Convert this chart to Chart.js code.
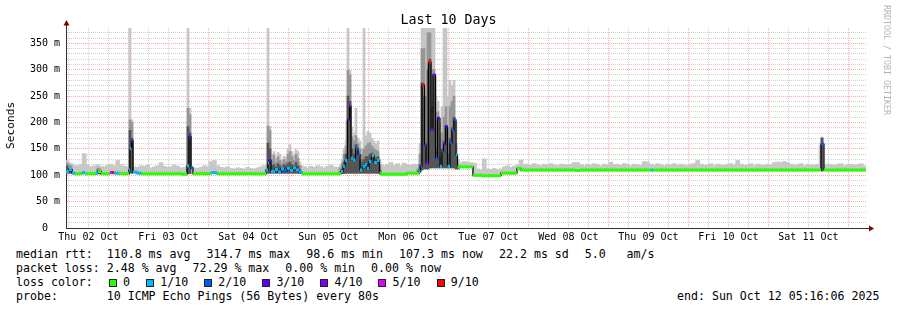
<!DOCTYPE html>
<html><head><meta charset="utf-8">
<script src="https://cdn.jsdelivr.net/npm/chart.js@4.4.1/dist/chart.umd.min.js"></script>
<style>
html,body{margin:0;padding:0;background:#fff;}
body{width:897px;height:310px;position:relative;overflow:hidden;font-family:"DejaVu Sans Mono",monospace;color:#000;}
#wrap{position:absolute;left:0;top:0;width:897px;height:245px;}
.t{position:absolute;white-space:pre;font-size:11.6px;line-height:14px;}
.box{position:absolute;width:6px;height:6px;border:1px solid #222;top:279px;}
#title{position:absolute;left:0;width:897px;top:11px;text-align:center;font-size:13.3px;line-height:17px;white-space:pre;}
#ytitle{position:absolute;left:5px;top:102px;writing-mode:vertical-rl;transform:rotate(180deg);font-size:11.2px;line-height:12px;white-space:pre;color:#000;}
#rrd{position:absolute;left:882px;top:5px;writing-mode:vertical-rl;font-size:8.3px;color:#b4b4b4;white-space:pre;line-height:9px;}
</style></head>
<body>
<div id="wrap"><canvas id="c" width="897" height="245"></canvas></div>
<div id="title">Last 10 Days</div>
<div id="ytitle">Seconds</div>
<div id="rrd">RRDTOOL / TOBI OETIKER</div>
<div class="t" style="left:16px;top:247px">median rtt:  110.8 ms avg</div>
<div class="t" style="left:206.5px;top:247px">314.7 ms max</div>
<div class="t" style="left:306.3px;top:247px">98.6 ms min</div>
<div class="t" style="left:399.1px;top:247px">107.3 ms now</div>
<div class="t" style="left:499px;top:247px">22.2 ms sd</div>
<div class="t" style="left:584.7px;top:247px">5.0   am/s</div>
<div class="t" style="left:16px;top:261px">packet loss: 2.48 % avg</div>
<div class="t" style="left:192.5px;top:261px">72.29 % max</div>
<div class="t" style="left:285.3px;top:261px">0.00 % min</div>
<div class="t" style="left:371.1px;top:261px">0.00 % now</div>
<div class="t" style="left:16px;top:275px">loss color:</div>
<div id="lossLegend"></div>
<div class="t" style="left:16px;top:289px">probe:       10 ICMP Echo Pings (56 Bytes) every 80s</div>
<div class="t" style="left:677px;top:289px">end: Sun Oct 12 05:16:06 2025</div>
<script>
// ---------- data ----------
const HOURS = 240;                 // 10 days, hours from start (Thu 02 Oct 05:16)
const FIRST_MIDNIGHT = 18.73;      // Fri 03 Oct 00:00, hours from start
const DAY_LABELS = ['Thu 02 Oct','Fri 03 Oct','Sat 04 Oct','Sun 05 Oct','Mon 06 Oct','Tue 07 Oct','Wed 08 Oct','Thu 09 Oct','Fri 10 Oct','Sat 11 Oct'];
const Y_TICKS = [0,50,100,150,200,250,300,350];
const Y_LABELS = ['0  ','50 m','100 m','150 m','200 m','250 m','300 m','350 m'];
const Y_MAX = 379;

const LOSS_KEYS = [0,1,2,3,4,5,9];
const LOSS_NAMES = ['0','1/10','2/10','3/10','4/10','5/10','9/10'];
const LOSS_COLORS = ['#26ff00','#00b8ff','#0059ff','#5e00ff','#7e00ff','#dd00ff','#ff0000'];

// median rtt (ms) as steps: value holds from MED_T[i] to MED_T[i+1]
const MED_T = [0,0.9,1.8,2.7,4.8,5.7,9.0,9.6,10.5,13.2,13.8,14.4,15.9,18.9,19.2,19.65,20.1,21.3,22.5,34.8,36.3,36.9,37.5,38.1,43.5,45.3,60.0,60.6,60.9,61.5,62.7,63.6,64.5,65.4,66.3,67.2,68.1,69.0,69.9,70.8,82.5,83.1,83.7,84.45,85.05,85.5,86.1,86.85,87.6,88.2,88.95,89.7,90.3,90.9,91.65,92.4,93.3,94.05,94.5,102.3,105.9,106.35,106.8,107.55,108.0,108.75,109.5,110.1,110.85,111.45,112.2,112.8,113.25,113.85,114.45,115.2,115.8,116.4,117.0,117.45,122.1,124.8,130.5,135.3,136.5,152.7,154.2,175.5,176.1,226.5,227.4];
const MED_V = [107,111,104,103,105,103,104,107,103,105,105,104,103,110,150,165,106,104,103,102,118,173,114,103,105,103,110,123,128,107,111,106,112,108,113,109,114,110,106,103,107,117,128,205,231,132,129,151,139,110,117,120,113,126,137,124,128,104,102,104,107,117,271,157,123,314,186,290,132,208,117,144,159,192,117,161,185,205,139,116,100,99,104,113,110,109,110,110,110,159,110];
const MED_LOSS = [1,1,1,0,1,0,1,0,0,5,9,1,0,1,1,3,1,1,0,0,1,3,2,0,1,0,1,1,3,1,1,1,1,2,1,1,1,1,1,0,1,1,1,3,4,1,1,2,2,1,1,1,1,1,1,1,1,0,0,0,1,2,9,4,4,9,4,4,2,3,1,2,3,3,1,2,2,2,1,0,0,0,0,0,0,0,0,1,0,2,0];

// light smoke top (ms), one value per hour
const SMOKE_HI = [124,122,119,118,121,141,119,116,118,120,117,116,119,121,118,128,120,117,116,
118,116,115,118,117,119,114,116,118,124,117,115,116,119,117,114,115,118,117,114,113,115,118,116,
126,128,118,115,114,116,113,112,114,113,112,115,113,112,114,116,118,120,122,124,121,126,123,125,120,122,124,118,
116,114,117,115,118,116,114,117,119,116,115,118,
125,130,135,130,130,135,135,130,130,128,130,120,
118,121,124,119,122,118,123,120,119,121,118,
122,130,130,130,130,130,130,130,130,130,130,130,
124,126,125,124,123,
112,110,131,112,111,113,110,112,
116,118,115,117,120,129,
120,121,119,122,120,118,121,119,122,120,118,121,120,119,121,124,124,120,118,121,119,122,120,118,121,119,125,120,121,119,122,120,118,121,120,119,126,125,121,119,122,120,118,121,120,122,119,121,120,118,121,122,128,121,119,120,122,118,121,120,119,121,122,120,128,121,119,120,122,118,121,120,119,121,120,124,125,124,126,124,121,119,120,122,118,121,120,119,121,120,118,121,120,119,121,122,118,120,121,119,120,122,118];

// darker smoke columns in busy periods
const COL_T = [0.3,0.9,1.5,9.6,10.2,19.2,19.8,36.6,37.2,60.6,61.2,
61.8,62.4,63.0,63.6,64.2,64.8,65.4,66.0,66.6,67.2,67.8,68.4,69.0,69.6,70.2,
82.2,82.8,83.4,84.0,84.6,85.2,85.8,86.4,87.0,87.6,88.2,88.8,89.4,90.0,90.6,91.2,91.8,92.4,93.0,93.6,94.2,
105.6,106.2,106.8,107.4,108.0,108.6,109.2,109.8,110.4,111.0,111.6,112.2,112.8,113.4,114.0,114.6,115.2,115.8,116.4,117.0,117.6,
226.8];
const COL_LO = [104,104,104,103,103,104,104,103,103,104,104,
104,104,104,104,104,104,104,104,104,104,104,104,104,104,103,
103,103,103,104,104,104,104,104,104,104,104,104,104,104,104,104,104,104,104,104,103,
103,106,110,112,112,112,114,114,114,114,114,114,114,114,114,114,114,114,114,112,112,
108];
const COL_LIGHT = [128,125,122,118,116,379,205,379,227,379,193,
140,145,132,143,140,128,136,134,150,158,145,138,149,145,125,
118,130,150,165,379,299,192,180,227,170,165,150,379,175,183,180,170,165,160,165,130,
120,160,379,379,379,379,379,379,379,250,240,200,230,379,379,250,280,270,280,200,125,
172];
const COL_MID = [124,120,118,114,112,205,200,227,215,193,185,
130,138,125,135,128,122,130,126,140,145,135,128,140,132,118,
112,122,140,155,299,290,173,165,175,160,150,140,150,155,160,162,155,150,148,145,120,
112,140,340,340,250,370,370,300,300,220,220,170,180,210,230,190,230,240,250,160,120,
172];
const COL_DARK = [118,112,110,110,108,185,170,192,180,161,150,
118,120,115,122,118,114,120,118,122,125,120,118,124,118,110,
106,112,125,140,250,240,150,140,158,145,130,125,130,135,135,140,142,135,132,135,110,
108,120,275,250,160,300,320,230,290,150,210,135,150,165,195,140,170,190,210,140,117,
170];

// ---------- build ----------
const FONT = 'DejaVu Sans Mono';
const MINOR = 'rgba(150,150,150,0.45)';
const MAJOR = 'rgba(255,0,0,0.35)';
const AXIS = '#333333';
const lossColor = l => LOSS_COLORS[LOSS_KEYS.indexOf(l)];

function medAt(t){ let v = MED_V[0]; for (let i=0;i<MED_T.length;i++){ if (MED_T[i] <= t) v = MED_V[i]; else break; } return v; }

const bandData = SMOKE_HI.map((hi,i)=>({x:i+0.5, y:[medAt(i+0.5)-2, hi]}));
const colData = arr => COL_T.map((t,i)=>({x:t, y:[COL_LO[i], arr[i]]}));

const medPts = [];
for (let i=0;i<MED_T.length;i++){
  const t1 = i+1 < MED_T.length ? MED_T[i+1] : HOURS;
  medPts.push({x:MED_T[i], y:MED_V[i], loss:MED_LOSS[i]});
  medPts.push({x:t1, y:MED_V[i], loss:MED_LOSS[i]});
}
const stepPts = MED_T.map((t,i)=>({x:t, y:MED_V[i]})).concat([{x:HOURS, y:MED_V[MED_V.length-1]}]);

// loss legend (RRDtool style: box, then label)
const ll = document.getElementById('lossLegend');
const BOX_X = [108.8,146,204.1,262.2,320.3,378.4,436.5];
LOSS_NAMES.forEach((n,i)=>{
  const b = document.createElement('div'); b.className='box'; b.style.left = BOX_X[i]+'px'; b.style.background = LOSS_COLORS[i]; ll.appendChild(b);
  const s = document.createElement('div'); s.className='t'; s.style.left=(BOX_X[i]+14.2)+'px'; s.style.top='275px'; s.textContent=n; ll.appendChild(s);
});

const mod24 = v => ((v % 24) + 24) % 24;
const near0 = r => r < 0.01 || r > 23.99;
const isMidnight = v => near0(mod24(v - FIRST_MIDNIGHT));
const isNoon = v => near0(mod24(v - FIRST_MIDNIGHT - 12));

const arrows = {
  id:'arrows',
  afterDraw(chart){
    const {ctx, chartArea:a} = chart;
    ctx.save();
    ctx.strokeStyle = AXIS; ctx.lineWidth = 1;
    ctx.beginPath();
    ctx.moveTo(a.left+0.5, a.top); ctx.lineTo(a.left+0.5, a.top-3);
    ctx.moveTo(a.right, a.bottom+0.5); ctx.lineTo(a.right+3, a.bottom+0.5);
    ctx.stroke();
    ctx.fillStyle = '#7f0000';
    ctx.beginPath();
    ctx.moveTo(a.left+0.5-3, a.top-2.5); ctx.lineTo(a.left+0.5+3, a.top-2.5); ctx.lineTo(a.left+0.5, a.top-8); ctx.closePath(); ctx.fill();
    ctx.beginPath();
    ctx.moveTo(a.right+3, a.bottom+0.5-3); ctx.lineTo(a.right+3, a.bottom+0.5+3); ctx.lineTo(a.right+8, a.bottom+0.5); ctx.closePath(); ctx.fill();
    ctx.restore();
  }
};

Chart.defaults.font.family = FONT;

new Chart(document.getElementById('c'), {
  type:'bar',
  data:{datasets:[
    {type:'line', data:medPts, borderWidth:3, pointRadius:0, borderColor:LOSS_COLORS[0], borderCapStyle:'butt',
     segment:{borderColor: c => c.p0.parsed.x === c.p1.parsed.x ? 'rgba(0,0,0,0)' : lossColor(medPts[c.p0DataIndex].loss)}, order:0},
    {type:'line', data:stepPts, stepped:'before', borderWidth:1.2, borderColor:'#000', pointRadius:0, order:1},
    {type:'bar', data:colData(COL_DARK), backgroundColor:'#555555', barThickness:2, grouped:false, order:2},
    {type:'bar', data:colData(COL_MID), backgroundColor:'#969696', barThickness:2, grouped:false, order:3},
    {type:'bar', data:colData(COL_LIGHT), backgroundColor:'#c6c6c6', barThickness:2, grouped:false, order:4},
    {type:'bar', data:bandData, backgroundColor:'#c8c8c8', barThickness:4, grouped:false, order:5}
  ]},
  options:{
    responsive:false, animation:false, devicePixelRatio:1, events:[],
    layout:{padding:{left:0, right:31, top:28, bottom:0}},
    plugins:{legend:{display:false}, tooltip:{enabled:false}, title:{display:false}},
    scales:{
      x:{type:'linear', min:0, max:HOURS, offset:false,
        afterBuildTicks: s => { const t=[]; for (let v = FIRST_MIDNIGHT - 18; v < HOURS; v += 6) if (v >= 0) t.push({value:v}); s.ticks = t; },
        afterFit: s => { s.height = 17; },
        ticks:{autoSkip:false, maxRotation:0, minRotation:0, padding:3, color:'#000', font:{family:FONT, size:10},
          callback: v => isNoon(v) ? DAY_LABELS[Math.round((v - FIRST_MIDNIGHT - 12)/24) + 1] : ''},
        grid:{offset:false, drawTicks:false, lineWidth:1, color: c => isMidnight(c.tick.value) ? MAJOR : MINOR},
        border:{display:true, color:AXIS, width:1, dash:[1,1]}
      },
      y:{type:'linear', min:0, max:Y_MAX,
        afterBuildTicks: s => { const t=[]; for (let v=0; v<=370; v+=10) t.push({value:v}); s.ticks = t; },
        afterFit: s => { s.width = 66; },
        ticks:{autoSkip:false, padding:6, color:'#000', font:{family:FONT, size:10},
          callback: v => { const k = Y_TICKS.indexOf(v); return k >= 0 ? Y_LABELS[k] : ''; }},
        grid:{drawTicks:false, lineWidth:1, color: c => (c.tick.value % 50 === 0) ? MAJOR : MINOR},
        border:{display:true, color:AXIS, width:1, dash:[1,1]}
      }
    }
  },
  plugins:[arrows]
});
</script>
</body></html>
